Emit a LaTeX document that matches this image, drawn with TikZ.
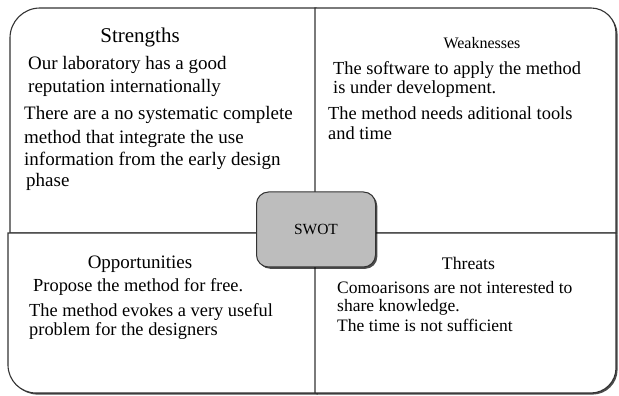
\documentclass[tikz,border=0pt]{standalone}
\usepackage{fontspec}
\setmainfont{Liberation Serif}
\usetikzlibrary{shadows}
\definecolor{edge}{HTML}{333333}
\definecolor{swotgray}{HTML}{BDBDBD}
\tikzset{
  quad/.style={draw=edge, line width=1.1pt, fill=white,
    drop shadow={shadow xshift=1.6pt, shadow yshift=-1.6pt, opacity=0.7, fill=black}},
  head/.style={inner sep=0pt, anchor=base, text=black},
  body/.style={inner sep=0pt, anchor=base west, text=black},
  swotbox/.style={draw=edge, line width=1pt, fill=swotgray, rounded corners=12pt,
    minimum width=119pt, minimum height=75pt, inner sep=0pt,
    font=\fontsize{15.5}{18}\selectfont,
    drop shadow={shadow xshift=1.8pt, shadow yshift=-1.8pt, opacity=0.7, fill=black}},
  big/.style={font=\fontsize{19}{22}\selectfont},
  mid/.style={font=\fontsize{18.4}{20}\selectfont},
  small/.style={font=\fontsize{17.5}{20}\selectfont}
}
\begin{document}
\begin{tikzpicture}[x=1pt,y=1pt]
\useasboundingbox (0,0) rectangle (619,396);
% quadrants
\path[quad] (10,163) -- (10,358) arc[start angle=180,end angle=90,radius=30] -- (316,388) -- (316,163) -- cycle;
\path[quad] (315,163) -- (315,388) -- (591,388) arc[start angle=90,end angle=0,radius=25] -- (616,163) -- cycle;
\path[quad] (8,163) -- (8,31) arc[start angle=180,end angle=270,radius=28] -- (316,3) -- (316,163) -- cycle;
\path[quad] (315,163) -- (616,163) -- (616,28) arc[start angle=0,end angle=-90,radius=25] -- (315,3) -- cycle;
% centre box
\node[swotbox] (swot) at (316,166.5) {SWOT};
% Strengths
\node[head, font=\fontsize{21}{24}\selectfont] (sh) at (140,353.3) {Strengths};
\node[body, big] (s1a) at (28,326) {Our laboratory has a good};
\node[body, big] (s1b) at (28,303.3) {reputation internationally};
\node[body, big] (s2a) at (24,276) {There are a no systematic complete};
\node[body, big] (s2b) at (24,252.7) {method that integrate the use};
\node[body, big] (s2c) at (24,230) {information from the early design};
\node[body, big] (s2d) at (26,209.3) {phase};
% Weaknesses
\node[head, font=\fontsize{16}{19}\selectfont] (wh) at (482,347.7) {Weaknesses};
\node[body, mid] (w1a) at (333,321) {The software to apply the method};
\node[body, mid] (w1b) at (333,302.7) {is under development.};
\node[body, mid] (w2a) at (328,276) {The method needs aditional tools};
\node[body, mid] (w2b) at (328,256) {and time};
% Opportunities
\node[head, big] (oh) at (140,127.7) {Opportunities};
\node[body, mid] (o1) at (33,104.3) {Propose the method for free.};
\node[body, mid] (o2a) at (29,79.3) {The method evokes a very useful};
\node[body, mid] (o2b) at (29,60.3) {problem for the designers};
% Threats
\node[head, font=\fontsize{17.7}{20}\selectfont] (th) at (468.5,126) {Threats};
\node[body, small] (t1a) at (337,102.7) {Comoarisons are not interested to};
\node[body, small] (t1b) at (337,84.3) {share knowledge.};
\node[body, small] (t1c) at (337,64.3) {The time is not sufficient};
\end{tikzpicture}
\end{document}
